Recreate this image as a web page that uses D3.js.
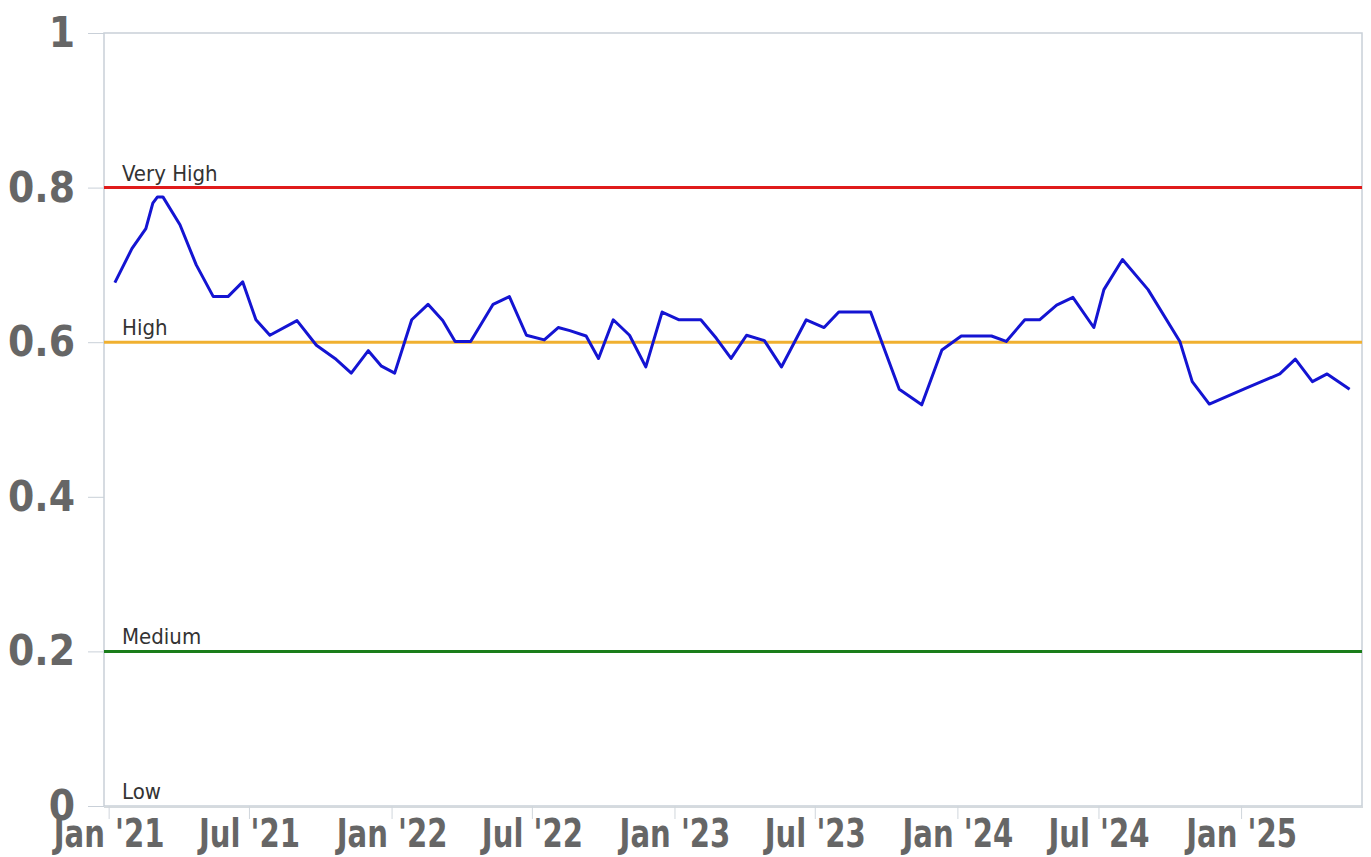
<!DOCTYPE html>
<html>
<head>
<meta charset="utf-8">
<script src="https://cdn.jsdelivr.net/npm/d3@7"></script>
<style>
  body { margin: 0; background: #fff; }
  .axis text { fill: #666; font-weight: bold; font-family: "DejaVu Sans Condensed", "DejaVu Sans", sans-serif; font-stretch: condensed; }
  .band-label { font-family: "DejaVu Sans Condensed", "DejaVu Sans", sans-serif; font-stretch: condensed; fill: #333; font-size: 22px; }
</style>
</head>
<body>
<svg id="chart" width="1371" height="857"></svg>
<script>
// series: date, value
var dates = ["2021-01-09","2021-01-31","2021-02-18","2021-02-27","2021-03-05","2021-03-12","2021-04-03","2021-04-24",
  "2021-05-16","2021-06-04","2021-06-23","2021-07-10","2021-07-28","2021-09-01","2021-09-26","2021-10-20",
  "2021-11-10","2021-12-02","2021-12-19","2022-01-05","2022-01-27","2022-02-17","2022-03-08","2022-03-24",
  "2022-04-13","2022-05-12","2022-06-02","2022-06-24","2022-07-17","2022-08-04","2022-08-19","2022-09-09",
  "2022-09-25","2022-10-14","2022-11-04","2022-11-25","2022-12-16","2023-01-07","2023-02-04","2023-02-24",
  "2023-03-15","2023-04-04","2023-04-27","2023-05-19","2023-06-20","2023-07-13","2023-08-01","2023-09-11",
  "2023-10-18","2023-11-16","2023-12-12","2024-01-06","2024-02-14","2024-03-04","2024-03-28","2024-04-16",
  "2024-05-08","2024-05-29","2024-06-25","2024-07-08","2024-08-01","2024-09-03","2024-10-14","2024-10-30",
  "2024-11-21","2025-01-06","2025-02-20","2025-03-12","2025-04-03","2025-04-22","2025-05-21"];
var values = [0.677,0.721,0.747,0.78,0.788,0.788,0.752,0.70,
  0.659,0.659,0.678,0.629,0.609,0.628,0.596,0.579,
  0.56,0.589,0.569,0.56,0.629,0.649,0.628,0.601,
  0.601,0.649,0.659,0.609,0.603,0.619,0.615,0.608,
  0.579,0.629,0.609,0.568,0.639,0.629,0.629,0.605,
  0.579,0.609,0.602,0.568,0.629,0.619,0.639,0.639,
  0.539,0.519,0.59,0.608,0.608,0.601,0.629,0.629,
  0.648,0.658,0.619,0.668,0.707,0.668,0.601,0.549,
  0.52,0.54,0.559,0.578,0.549,0.559,0.539];

// risk bands
var bandNames = ["Very High", "High", "Medium", "Low"];
var bandValues = [0.8, 0.6, 0.2, 0];
var bandColors = { "Very High": "#e01b1b", "High": "#f0b030", "Medium": "#1a7d1a", "Low": "none" };

var yTicks = [0, 0.2, 0.4, 0.6, 0.8, 1];
var xStart = "2020-12-26", xEnd = "2025-06-06";

var parse = d3.timeParse("%Y-%m-%d");
var data = dates.map(function(d, i) { return { date: parse(d), value: values[i] }; });

var svg = d3.select("#chart");
var mLeft = 104, mRight = 1362, mTop = 33, mBottom = 806;

var x = d3.scaleTime().domain([parse(xStart), parse(xEnd)]).range([mLeft, mRight]);
var y = d3.scaleLinear().domain([0, 1]).range([mBottom, mTop]);

// plot frame
svg.append("rect")
  .attr("x", mLeft).attr("y", mTop)
  .attr("width", mRight - mLeft).attr("height", mBottom - mTop)
  .attr("fill", "#fff").attr("stroke", "#c9d0d8").attr("stroke-width", 1.5);
svg.append("line")
  .attr("x1", mLeft).attr("x2", mRight + 1)
  .attr("y1", mBottom + 1).attr("y2", mBottom + 1)
  .attr("stroke", "#d5dade").attr("stroke-width", 2);

var yAxis = d3.axisLeft(y).tickValues(yTicks).tickSize(16).tickPadding(13)
  .tickFormat(function(d) { return String(d); });
var gY = svg.append("g").attr("class", "axis")
  .attr("transform", "translate(" + mLeft + ",0)")
  .call(yAxis);
gY.select(".domain").remove();
gY.selectAll("line").attr("stroke", "#c9d0d8");
gY.selectAll("text").style("font-size", "42px").attr("dy", "0.32em");

var xAxis = d3.axisBottom(x).ticks(d3.timeMonth.every(6)).tickSize(13).tickPadding(0)
  .tickFormat(d3.timeFormat("%b '%y"));
var gX = svg.append("g").attr("class", "axis")
  .attr("transform", "translate(0," + mBottom + ")")
  .call(xAxis);
gX.select(".domain").remove();
gX.selectAll("line").attr("stroke", "#d0d6dc");
// narrow the month labels like the original condensed face
gX.selectAll("text").style("font-size", "39px").attr("dy", "0.72em")
  .attr("transform", "scale(0.83,1)");

// band lines and labels
bandNames.forEach(function(name, i) {
  if (bandColors[name] !== "none") {
    svg.append("line")
      .attr("x1", mLeft).attr("x2", mRight)
      .attr("y1", y(bandValues[i])).attr("y2", y(bandValues[i]))
      .attr("stroke", bandColors[name]).attr("stroke-width", 3);
  }
  svg.append("text").attr("class", "band-label")
    .attr("x", mLeft + 18).attr("y", y(bandValues[i]) - 7)
    .text(name);
});

var line = d3.line().x(function(d) { return x(d.date); }).y(function(d) { return y(d.value); });
svg.append("path").datum(data)
  .attr("d", line)
  .attr("fill", "none")
  .attr("stroke", "#1414d2")
  .attr("stroke-width", 3)
  .attr("stroke-linejoin", "round");
</script>
</body>
</html>
